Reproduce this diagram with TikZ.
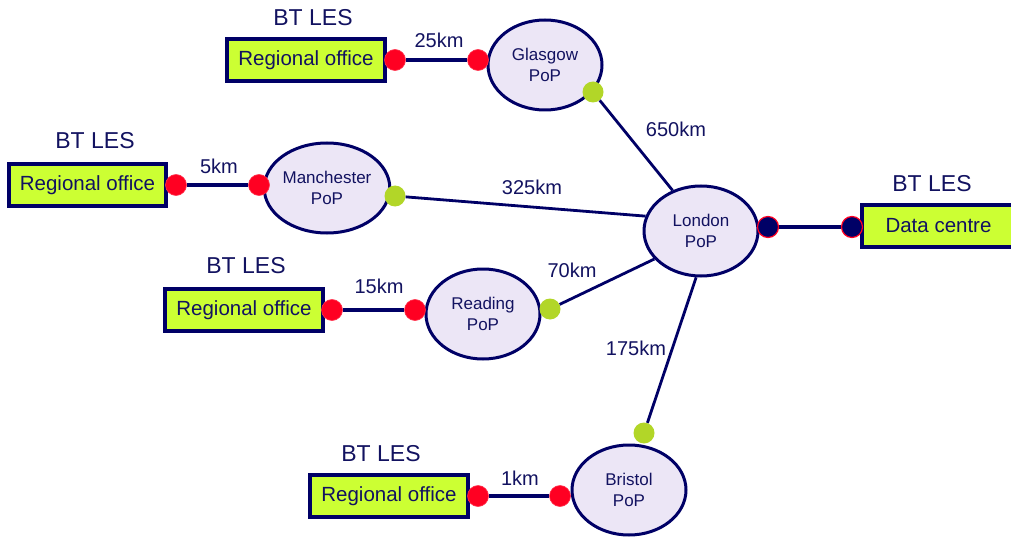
\documentclass[tikz,border=0pt]{standalone}
\usepackage{fontspec}
\setmainfont{Liberation Sans}
\usetikzlibrary{shapes.geometric}
\definecolor{navy}{RGB}{0,0,102}
\definecolor{inknavy}{RGB}{18,18,96}
\definecolor{lime}{RGB}{204,255,51}
\definecolor{lavender}{RGB}{236,230,246}
\definecolor{dotred}{RGB}{255,0,34}
\definecolor{dotgreen}{RGB}{178,214,40}
\tikzset{
  sitebox/.style={draw=navy, line width=3.5pt, fill=lime, inner sep=0pt,
    minimum height=42pt, text=inknavy, font=\fontsize{20.5}{24}\selectfont},
  pop/.style={ellipse, draw=navy, line width=3pt, fill=lavender, inner sep=0pt,
    minimum width=114pt, minimum height=90pt, align=center, text=inknavy,
    font=\fontsize{17}{21}\selectfont},
  reddot/.style={circle, fill=dotred, draw=dotred!80!white, line width=0.6pt,
    minimum size=21pt, inner sep=0pt},
  greendot/.style={circle, fill=dotgreen, minimum size=21pt, inner sep=0pt},
  navydot/.style={circle, fill=navy, draw=dotred, line width=1.2pt,
    minimum size=21pt, inner sep=0pt},
  les/.style={text=inknavy, font=\fontsize{23}{27}\selectfont},
  dist/.style={text=inknavy, font=\fontsize{20}{24}\selectfont},
  link/.style={draw=navy, line width=3.5pt},
  trunk/.style={draw=navy, line width=2.8pt}
}
\begin{document}
\begin{tikzpicture}[x=1pt,y=-1pt]
\useasboundingbox (0,0) rectangle (1011,540);

% points of presence
\node[pop] (glasgow)    at (545,65)  {Glasgow\\PoP};
\node[pop] (manchester) at (327,188) {Manchester\\PoP};
\node[pop] (london)     at (701,231) {London\\PoP};
\node[pop] (reading)    at (483,314) {Reading\\PoP};
\node[pop] (bristol)    at (629,490) {Bristol\\PoP};

% customer sites
\node[sitebox, minimum width=158pt] (roGlasgow)    at (306,60)  {Regional office};
\node[sitebox, minimum width=157pt] (roManchester) at (87.5,185) {Regional office};
\node[sitebox, minimum width=158pt] (roReading)    at (244,310) {Regional office};
\node[sitebox, minimum width=158pt] (roBristol)    at (389,496) {Regional office};
\node[sitebox, minimum width=153pt] (dc)           at (938.5,226) {Data centre};

\node[les] (lesGlasgow)    at (313,18)  {BT LES};
\node[les] (lesManchester) at (95,141)  {BT LES};
\node[les] (lesReading)    at (246,266) {BT LES};
\node[les] (lesBristol)    at (381,454) {BT LES};
\node[les] (lesDc)         at (932,184) {BT LES};

% access tails
\node[reddot] (gA) at (395,60)  {};
\node[reddot] (gB) at (478,60)  {};
\node[reddot] (mA) at (176,185) {};
\node[reddot] (mB) at (259,185) {};
\node[reddot] (rA) at (332,310) {};
\node[reddot] (rB) at (415,310) {};
\node[reddot] (bA) at (478,496) {};
\node[reddot] (bB) at (560,496) {};
\node[navydot] (lA) at (768,227) {};
\node[navydot] (lB) at (852,227) {};

% core ports
\node[greendot] (gP) at (593,92)  {};
\node[greendot] (mP) at (395,196) {};
\node[greendot] (rP) at (550,309) {};
\node[greendot] (bP) at (644,433) {};

\draw[link] (gA) -- (gB);
\draw[link] (mA) -- (mB);
\draw[link] (rA) -- (rB);
\draw[link] (bA) -- (bB);
\draw[link] (lA) -- (lB);

\draw[trunk] (gP) -- (london.125);
\draw[trunk] (mP) -- (london.165);
\draw[trunk] (rP) -- (london.211);
\draw[trunk] (bP) -- (london.264);

% distances
\node[dist] (d25)  at (439,40)  {25km};
\node[dist] (d5)   at (219,166) {5km};
\node[dist] (d15)  at (379,286) {15km};
\node[dist] (d1)   at (520,478) {1km};
\node[dist] (d325) at (532,187) {325km};
\node[dist] (d650) at (676,129) {650km};
\node[dist] (d70)  at (572,270) {70km};
\node[dist] (d175) at (636,348) {175km};
\end{tikzpicture}
\end{document}
